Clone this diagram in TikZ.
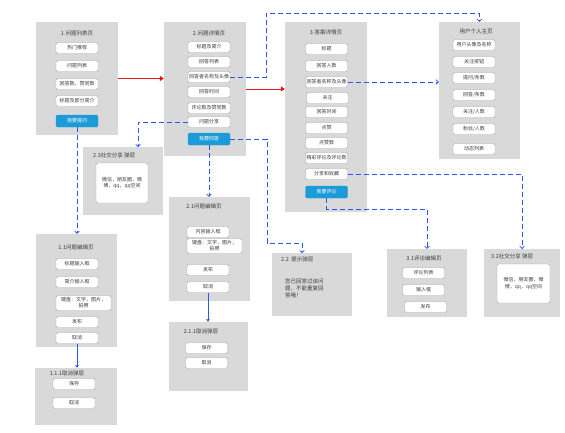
\documentclass[tikz,border=0pt]{standalone}
\usepackage{fontspec}
\setmainfont{Noto Sans CJK SC}
\usetikzlibrary{arrows.meta, positioning, calc}
\definecolor{PanelGray}{RGB}{217,217,217}
\definecolor{BtnBlue}{RGB}{27,155,215}
\definecolor{LinkBlue}{RGB}{45,85,240}
\definecolor{FlowRed}{RGB}{235,20,20}
\definecolor{TextGray}{RGB}{60,60,60}
\tikzset{
  panel/.style={fill=PanelGray, draw=none, inner sep=0pt},
  ptitle/.style={font=\fontsize{5.5}{6.5}\selectfont, text=TextGray, inner sep=0pt},
  btn/.style={draw=black!35, fill=white, rounded corners=1.5pt, minimum width=42pt,
    minimum height=11pt, inner sep=1pt, font=\fontsize{5}{6}\selectfont, text=TextGray, align=center},
  bluebtn/.style={btn, draw=BtnBlue, fill=BtnBlue, text=white, minimum height=12pt},
  textbox/.style={draw=black!35, fill=white, rounded corners=2pt, inner sep=1pt,
    font=\fontsize{5}{6.5}\selectfont, text=TextGray, align=center},
  link/.style={LinkBlue, line width=0.8pt, dash pattern=on 5pt off 3pt,
    -{Straight Barb[length=2pt,width=4.5pt]}},
  solidlink/.style={LinkBlue, line width=0.8pt, -{Stealth[length=3pt,width=4pt]}},
  flow/.style={FlowRed, line width=1pt, -{Triangle[length=4pt,width=5pt]}}
}
\begin{document}
\begin{tikzpicture}[x=1pt, y=-1pt]
\useasboundingbox (0,0) rectangle (565,432);

% 1 问题列表页
\node[panel, minimum width=82pt, minimum height=113pt] (p1) at (77,78.5) {};
\node[ptitle] (t1) at (77,33) {1.问题列表页};
\node[btn] (a1) at (77,48) {热门推荐};
\node[btn] (a2) at (77,66) {问题列表};
\node[btn] (a3) at (77,84) {回答数，赞同数};
\node[btn] (a4) at (77,101) {标题及部分简介};
\node[bluebtn] (a5) at (77,121) {我要提问};

% 2 问题详情页
\node[panel, minimum width=82pt, minimum height=134pt] (p2) at (205,89) {};
\node[ptitle] (t2) at (209,33) {2.问题详情页};
\node[btn] (b1) at (209,47) {标题及简介};
\node[btn] (b2) at (209,62) {回答列表};
\node[btn] (b3) at (209,77) {回答者名称及头像};
\node[btn] (b4) at (209,92) {回答时间};
\node[btn] (b5) at (209,108) {评论数及赞同数};
\node[btn] (b6) at (209,122) {问题分享};
\node[bluebtn] (b7) at (209,139) {我要回答};

% 3 答案详情页
\node[panel, minimum width=82pt, minimum height=190pt] (p3) at (326,117) {};
\node[ptitle] (t3) at (326,32) {3.答案详情页};
\node[btn] (c1) at (326.5,49) {标题};
\node[btn] (c2) at (326.5,66) {回答人数};
\node[btn] (c3) at (326.5,82) {回答者名称及头像};
\node[btn] (c4) at (327.5,98) {关注};
\node[btn] (c5) at (326.5,112) {回答时间};
\node[btn] (c6) at (326.5,128) {点赞};
\node[btn] (c7) at (326.5,143) {点赞数};
\node[btn] (c8) at (326.5,158) {精彩评论及评论数};
\node[btn] (c9) at (326.5,174) {分享和收藏};
\node[bluebtn] (c10) at (326.5,192) {我要评论};

% 用户个人主页
\node[panel, minimum width=81pt, minimum height=137pt] (p4) at (479.5,90.5) {};
\node[ptitle] (t4) at (476,31) {用户个人主页};
\node[btn] (d1) at (474,45) {用户头像及名称};
\node[btn] (d2) at (474,62) {关注按钮};
\node[btn] (d3) at (474,78) {提问/条数};
\node[btn] (d4) at (474,95) {回答/条数};
\node[btn] (d5) at (474,112) {关注/人数};
\node[btn] (d6) at (474,129) {粉丝/人数};
\node[btn] (d7) at (474,149) {动态列表};

% 2.3 社交分享弹层
\node[panel, minimum width=80pt, minimum height=68pt] (p23) at (123,181) {};
\node[ptitle, anchor=west] (t23) at (93,155) {2.3社交分享 弹层};
\node[textbox, minimum width=52pt, minimum height=40pt] (e1) at (122,183)
  {微信，朋友圈，微\\博，qq，qq空间};

% 2.1 问题编辑页
\node[panel, minimum width=81pt, minimum height=104pt] (p21) at (209.5,249) {};
\node[ptitle] (t21) at (204,206) {2.1问题编辑页};
\node[btn] (f1) at (208,232) {内容输入框};
\node[btn, minimum width=55pt, minimum height=15pt] (f2) at (214.5,246) {键盘：文字，图片，\\拍照};
\node[btn] (f3) at (208,270) {发布};
\node[btn] (f4) at (208,287) {取消};

% 1.1 问题编辑页
\node[panel, minimum width=81pt, minimum height=113pt] (p11) at (76.5,290.5) {};
\node[ptitle] (t11) at (76,247) {1.1问题编辑页};
\node[btn] (g1) at (77,264) {标题输入框};
\node[btn] (g2) at (77,282) {简介输入框};
\node[btn, minimum width=55pt, minimum height=15pt] (g3) at (83.5,303) {键盘：文字，图片，\\拍照};
\node[btn] (g4) at (77,322) {发布};
\node[btn] (g5) at (77,338) {取消};

% 1.1.1 取消弹层
\node[panel, minimum width=82pt, minimum height=57pt] (p111) at (76,396.5) {};
\node[ptitle] (t111) at (67,373) {1.1.1取消弹层};
\node[btn] (h1) at (74,384) {保存};
\node[btn] (h2) at (74,403) {取消};

% 2.1.1 取消弹层
\node[panel, minimum width=79pt, minimum height=69pt] (p211) at (208.5,356.5) {};
\node[ptitle] (t211) at (201,331) {2.1.1取消弹层};
\node[btn] (k1) at (206.5,348) {保存};
\node[btn] (k2) at (206.5,363) {取消};

% 2.2 提示弹层
\node[panel, minimum width=80pt, minimum height=63pt] (p22) at (312,284.5) {};
\node[ptitle, anchor=west] (t22) at (281,259) {2.2\ \ 提示弹层};
\node[font=\fontsize{5.5}{7}\selectfont, text=TextGray, align=left, anchor=north west,
  inner sep=0pt] (m1) at (285,279) {您已回答过该问\\题，不能重复回\\答哦！};

% 3.1 评论编辑页
\node[panel, minimum width=80pt, minimum height=68pt] (p31) at (427,283) {};
\node[ptitle] (t31) at (424,258) {3.1评论编辑页};
\node[btn] (n1) at (423.5,273) {评论列表};
\node[btn] (n2) at (423.5,290) {输入框};
\node[btn] (n3) at (425.5,307) {发布};

% 3.2 社交分享弹层
\node[panel, minimum width=76pt, minimum height=68pt] (p32) at (522,283) {};
\node[ptitle, anchor=west] (t32) at (491,256) {3.2社交分享 弹层};
\node[textbox, minimum width=53pt, minimum height=39pt] (e2) at (523.5,283.5)
  {微信，朋友圈，微\\博，qq，qq空间};

% free corners of the dashed links
\coordinate (k23) at (138,147);
\coordinate (top1) at (266,13);
\coordinate (mid1) at (267,243);
\coordinate (k22) at (302,253);

% main flow
\draw[flow] (p1.east) -- (p1.east -| p2.west);
\draw[flow] (p2.east) -- (p2.east -| p3.west);

% links
\draw[link] (a5.south) -- (a5.south |- p11.north);
\draw[link] (b6.west) -| (k23);
\draw[link] (b3.east) -| (top1) -| (p4.north);
\draw[link] (b7.south) -- (b7.south |- p21.north);
\draw[link] (b7.east) -| (mid1) -| (k22);
\draw[link] (c3.east) -- (c3.east -| p4.west);
\draw[link] (c9.east) -| (p32.north);
\draw[link] (c10.south) -- ++(0,11) -| (p31.north);
\draw[solidlink] (g5.south) -- (g5.south |- p111.north);
\draw[solidlink] (f4.south) -- (f4.south |- p211.north);
\end{tikzpicture}
\end{document}
